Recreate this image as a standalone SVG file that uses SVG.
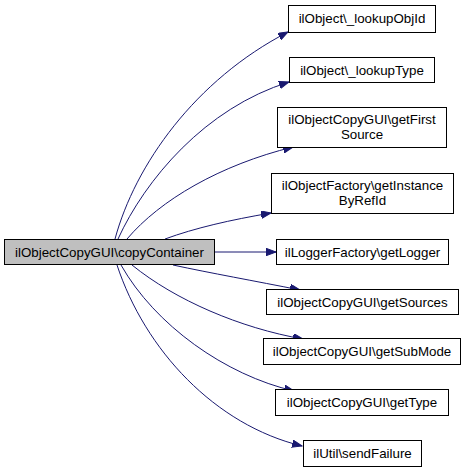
<svg xmlns="http://www.w3.org/2000/svg" width="467" height="473" viewBox="0 0 467 473">
<defs>
<style>
.n rect{fill:#ffffff;stroke:#000000;stroke-width:1}
.m rect{fill:#bfbfbf;stroke:#000000;stroke-width:1}
text{font-family:"Liberation Sans",Arial,sans-serif;font-size:13.33px;fill:#000000;text-anchor:middle}
.e path{fill:none;stroke:#191970;stroke-width:1}
</style>
<marker id="ah" markerWidth="11" markerHeight="8" refX="10" refY="3.75" orient="auto" markerUnits="userSpaceOnUse">
<path d="M0,0 L10,3.75 L0,7.5 Z" fill="#191970" stroke="#191970" stroke-width="1"/>
</marker>
</defs>
<rect width="467" height="473" fill="#ffffff"/>
<g id="connectors" class="e">
<path d="M115,239 C135,165 195,80 288,32" marker-end="url(#ah)"/>
<path d="M118,239 C145,180 205,108 289,82" marker-end="url(#ah)"/>
<path d="M127,239 C160,200 220,165 293,147" marker-end="url(#ah)"/>
<path d="M165,239 C195,228 230,220 271,213" marker-end="url(#ah)"/>
<path d="M215,252 L276,252" marker-end="url(#ah)"/>
<path d="M173,265 C210,273 255,281 300,290" marker-end="url(#ah)"/>
<path d="M132,265 C175,300 240,328 303,339" marker-end="url(#ah)"/>
<path d="M121,265 C155,325 225,375 294,391" marker-end="url(#ah)"/>
<path d="M117,265 C145,350 215,425 302,446" marker-end="url(#ah)"/>
</g>
<g id="node-main" class="m"><rect x="4.5" y="239.5" width="210" height="25"/><text x="109.5" y="256.5">ilObjectCopyGUI\copyContainer</text></g>
<g id="node-lookupObjId" class="n"><rect x="288.5" y="5.5" width="147" height="27"/><text x="362" y="23">ilObject\_lookupObjId</text></g>
<g id="node-lookupType" class="n"><rect x="289.5" y="57.5" width="145" height="25"/><text x="362" y="74.5">ilObject\_lookupType</text></g>
<g id="node-getFirstSource" class="n"><rect x="277.5" y="107.5" width="169" height="40"/><text x="362" y="124">ilObjectCopyGUI\getFirst</text><text x="362" y="139">Source</text></g>
<g id="node-getInstanceByRefId" class="n"><rect x="271.5" y="173.5" width="182" height="40"/><text x="362.5" y="190">ilObjectFactory\getInstance</text><text x="362.5" y="205">ByRefId</text></g>
<g id="node-getLogger" class="n"><rect x="276.5" y="239.5" width="172" height="25"/><text x="362.5" y="256.5">ilLoggerFactory\getLogger</text></g>
<g id="node-getSources" class="n"><rect x="266.5" y="289.5" width="192" height="25"/><text x="362.5" y="306.5">ilObjectCopyGUI\getSources</text></g>
<g id="node-getSubMode" class="n"><rect x="263.5" y="338.5" width="197" height="26"/><text x="362" y="356">ilObjectCopyGUI\getSubMode</text></g>
<g id="node-getType" class="n"><rect x="275.5" y="389.5" width="173" height="26"/><text x="362" y="407">ilObjectCopyGUI\getType</text></g>
<g id="node-sendFailure" class="n"><rect x="303.5" y="440.5" width="118" height="26"/><text x="362.5" y="458">ilUtil\sendFailure</text></g>
</svg>
